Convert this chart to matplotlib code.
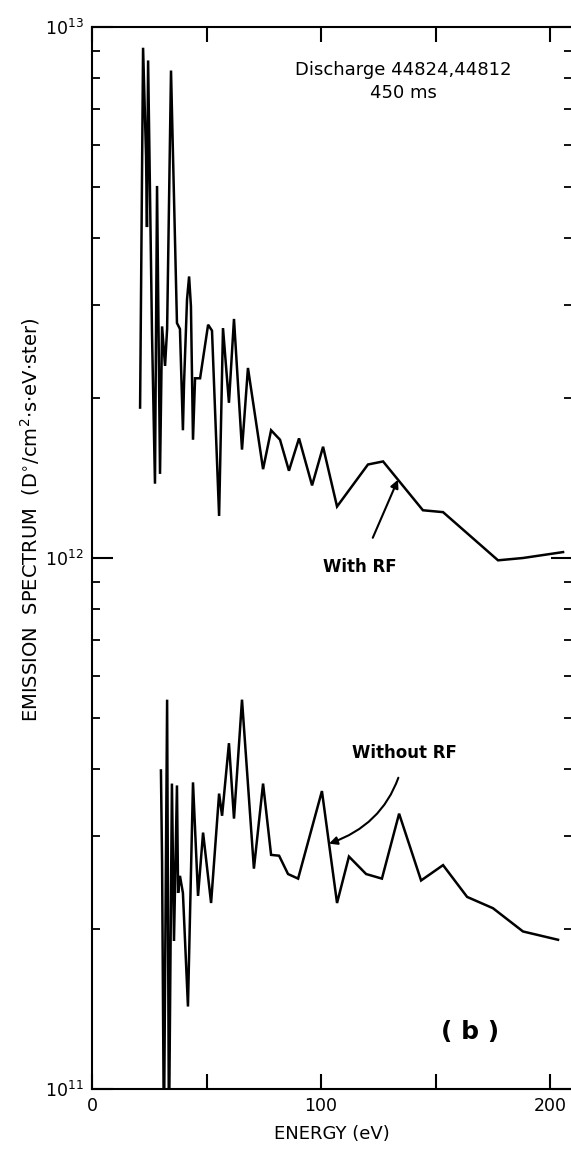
import numpy as np
import matplotlib
matplotlib.use("Agg")
import matplotlib.pyplot as plt
from matplotlib.ticker import LogLocator, NullFormatter, FixedLocator

# ── DATA ─────────────────────────────────────────────────────────────────────

# With RF (upper trace)
energy_rf = [21.0, 22.3, 23.6, 24.0, 24.5, 26.2, 27.5, 28.4, 29.7, 30.6,
             31.9, 32.8, 34.5, 35.4, 37.1, 38.4, 39.7, 40.2, 41.5, 42.4,
             43.2, 44.1, 45.0, 47.2, 50.7, 52.4, 55.5, 57.2, 59.8, 62.0,
             65.5, 68.1, 74.7, 78.2, 82.1, 86.0, 90.4, 96.1, 100.9, 107.0,
             120.5, 127.1, 144.5, 153.3, 177.3, 188.2, 205.7]
flux_rf = [1.92e12, 9.14e12, 5.73e12, 4.20e12, 8.65e12, 2.65e12, 1.38e12, 5.02e12, 1.44e12, 2.73e12,
           2.30e12, 2.70e12, 8.28e12, 5.66e12, 2.77e12, 2.70e12, 1.74e12, 2.14e12, 3.07e12, 3.39e12,
           2.98e12, 1.67e12, 2.18e12, 2.18e12, 2.75e12, 2.68e12, 1.20e12, 2.71e12, 1.96e12, 2.82e12,
           1.60e12, 2.28e12, 1.47e12, 1.74e12, 1.67e12, 1.46e12, 1.68e12, 1.37e12, 1.62e12, 1.25e12,
           1.50e12, 1.52e12, 1.23e12, 1.22e12, 0.99e12, 1.00e12, 1.026e12]

# Without RF (lower trace); values below 1e11 run off the bottom of the plot
energy_norf = [30.1, 30.6, 31.4, 32.8, 33.6, 34.9, 35.8, 37.1, 37.6, 38.4,
               39.7, 41.9, 44.1, 46.3, 48.5, 52.0, 55.5, 56.8, 59.8, 62.0,
               65.5, 70.7, 74.7, 78.2, 81.7, 85.6, 90.0, 100.4, 107.0, 112.2,
               119.7, 126.6, 134.1, 143.7, 153.3, 163.8, 175.1, 188.2, 203.5]
flux_norf = [3.98e11, 2.67e11, 0.8e11, 5.41e11, 0.8e11, 3.76e11, 1.90e11, 3.73e11, 2.34e11, 2.52e11,
             2.34e11, 1.43e11, 3.78e11, 2.31e11, 3.04e11, 2.24e11, 3.60e11, 3.27e11, 4.48e11, 3.23e11,
             5.41e11, 2.60e11, 3.76e11, 2.76e11, 2.75e11, 2.54e11, 2.49e11, 3.64e11, 2.24e11, 2.74e11,
             2.54e11, 2.49e11, 3.30e11, 2.47e11, 2.64e11, 2.30e11, 2.19e11, 1.98e11, 1.91e11]

x_ticks = [0, 50, 100, 150, 200]
x_ticklabels = ["0", "", "100", "", "200"]


def on_curve(e, xs, ys):
    # point on a trace (log-linear interpolation) for the arrow heads
    return 10 ** np.interp(e, xs, np.log10(ys))


# ── PLOT ────────────────────────────────────────────────────────────────────

plt.rcParams["font.family"] = ["DejaVu Sans"]

fig = plt.figure(figsize=(5.71, 11.49), dpi=100)
ax = fig.add_axes([92 / 571, 1 - 1089 / 1149, 480 / 571, 1062 / 1149])

ax.plot(energy_rf, flux_rf, color="black", lw=1.8, solid_joinstyle="miter")
ax.plot(energy_norf, flux_norf, color="black", lw=1.8, solid_joinstyle="miter")

ax.set_yscale("log")
ax.set_xlim(0, 209.6)
ax.set_ylim(1e11, 1e13)

ax.xaxis.set_major_locator(FixedLocator(x_ticks))
ax.set_xticklabels(x_ticklabels)
ax.yaxis.set_major_locator(LogLocator(base=10, numticks=5))
ax.yaxis.set_minor_locator(LogLocator(base=10, subs=np.arange(2, 10), numticks=20))
ax.yaxis.set_minor_formatter(NullFormatter())

ax.tick_params(axis="both", which="major", direction="in", length=11, width=1.5,
               top=True, right=True, labelsize=12.5, pad=6)
ax.tick_params(axis="y", which="minor", direction="in", length=6, width=1.3, right=True)
ax.tick_params(axis="y", which="major", length=15)
ax.spines["right"].set_visible(False)
for side in ["left", "top", "bottom"]:
    ax.spines[side].set_linewidth(1.5)

ax.set_xlabel("ENERGY (eV)", fontsize=13, labelpad=7)
ax.set_ylabel(r"EMISSION  SPECTRUM  (D$^{\circ}$/cm$^{2}$$\cdot$s$\cdot$eV$\cdot$ster)",
              fontsize=14)
ax.yaxis.set_label_coords(-0.105, 0.536)

ax.text(136, 7.9e12, "Discharge 44824,44812\n450 ms", ha="center", va="center",
        fontsize=13, linespacing=1.4)

ax.annotate("With RF", xy=(133.6, on_curve(133.6, energy_rf, flux_rf)),
            xytext=(117, 9.6e11), ha="center", va="center", fontsize=12, fontweight="bold",
            arrowprops=dict(arrowstyle="-|>", color="black", lw=1.5,
                            shrinkA=14, shrinkB=0, mutation_scale=12))
ax.annotate("Without RF", xy=(103.5, on_curve(103.5, energy_norf, flux_norf)),
            xytext=(136.5, 4.3e11), ha="center", va="center", fontsize=12, fontweight="bold",
            arrowprops=dict(arrowstyle="-|>", color="black", lw=1.5,
                            connectionstyle="arc3,rad=-0.3",
                            shrinkA=10, shrinkB=0, mutation_scale=12))

ax.text(165, 1.28e11, "( b )", ha="center", va="center", fontsize=18, fontweight="bold")

fig.savefig("out.png", dpi=100)
